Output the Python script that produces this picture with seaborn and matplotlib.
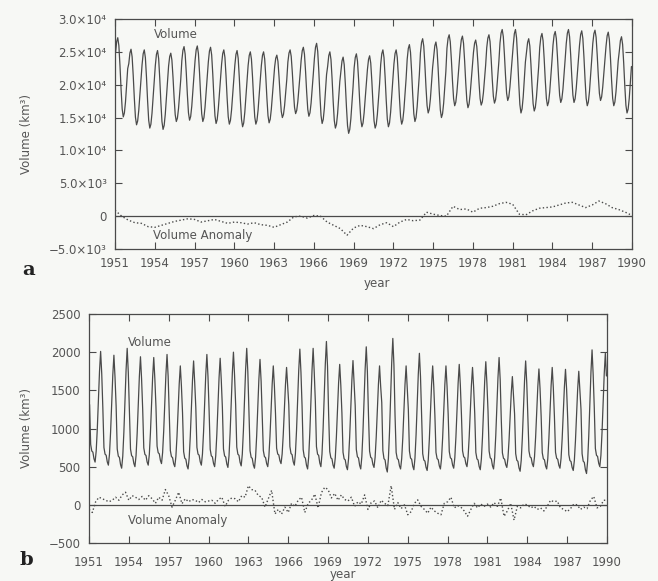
import numpy as np
import pandas as pd
import matplotlib
matplotlib.use("Agg")
import matplotlib.pyplot as plt
import seaborn as sns

sns.set_style("ticks")
plt.rcParams['font.family'] = ['DejaVu Sans']

# ---- data ----
years = np.arange(1951, 1990)

# panel a: yearly maxima / minima of the volume (km3)
peak_a = [27150, 25400, 25300, 25200, 24800, 25800, 25900, 25700, 25300, 25200,
          25000, 25000, 24500, 25300, 25700, 26300, 25000, 24200, 24700, 24400,
          25300, 25300, 26100, 27000, 26500, 27600, 27400, 26800, 27600, 28400,
          28400, 27000, 27800, 28100, 28400, 28200, 28300, 28000, 27300]
trough_a = [15100, 13900, 13400, 13200, 14400, 14600, 14400, 14100, 14000, 13600,
            14000, 14200, 15000, 15600, 15200, 14100, 13400, 12600, 13600, 13400,
            13600, 14000, 14400, 15700, 15000, 16800, 16500, 16900, 17200, 17600,
            15700, 16000, 16800, 17300, 17300, 16800, 17600, 16800, 15700]
# monthly position between minimum (0) and maximum (1)
shape_a = [0.81, 0.95, 1.0, 0.90, 0.65, 0.35, 0.10, 0.0, 0.05, 0.19, 0.39, 0.61]

# panel a anomaly, every half year 1951.0 .. 1990.0
anom_a = [900, 0, -600, -1000, -1100, -1600, -1700, -1400, -1100, -800,
          -600, -400, -500, -900, -700, -500, -800, -1100, -900, -1000,
          -1200, -1000, -1300, -1400, -1700, -1300, -900, -100, 0, -300,
          100, 0, -900, -1400, -1900, -2900, -1800, -1400, -1600, -1900,
          -1300, -1000, -1600, -900, -500, -700, -600, 600, 300, 100,
          0, 1500, 1000, 1100, 600, 1200, 1300, 1500, 1900, 2100,
          1800, 300, 200, 800, 1200, 1300, 1400, 1700, 2000, 2100,
          1700, 1300, 1700, 2300, 1900, 1300, 1000, 600, 100]

# panel b: yearly maxima / minima of the volume (km3)
peak_b = [2010, 1960, 2050, 1940, 1930, 1970, 1820, 1885, 1970, 1920,
          2000, 2050, 1905, 1820, 1800, 2040, 2050, 2140, 1840, 1890,
          2070, 1820, 2180, 1820, 1985, 1820, 1820, 1840, 1800, 1875,
          1930, 1680, 1885, 1780, 1800, 1775, 1750, 2030, 1985]
trough_b = [560, 520, 480, 500, 520, 540, 500, 470, 520, 500,
            490, 510, 480, 500, 540, 520, 470, 500, 480, 460,
            470, 490, 430, 470, 460, 450, 470, 480, 500, 460,
            470, 490, 440, 500, 470, 480, 450, 410, 500]
shape_b = [0.52, 0.16, 0.10, 0.09, 0.03, 0.0, 0.10, 0.30, 0.56, 0.82, 1.0, 0.80]

# panel b anomaly, every quarter 1951.0 .. 1990.0
anom_b = [-60, -100, 40, 100, 80, 60, 40, 60, 100, 60, 130, 165,
          60, 120, 100, 70, 110, 60, 120, 80, 20, 100, 60, 200,
          120, -30, 60, 165, 15, 80, 40, 70, 60, 30, 70, 40,
          50, 60, 20, 70, 100, -20, 60, 90, 80, 40, 120, 100,
          250, 200, 190, 120, 100, -30, 80, 190, -120, -60, -120, -30,
          -100, 20, -20, 60, 100, -100, 20, 60, 140, -40, 160, 230,
          200, 90, 150, 60, 130, 70, 50, 100, -20, 40, 10, 130,
          -60, 30, 50, -40, 60, 20, -10, 250, -60, 30, -50, 0,
          -130, -90, 20, 65, -20, -60, -110, -30, -80, -110, -130, 20,
          40, 100, -40, -10, -30, -80, -150, -60, 20, -40, 10, -20,
          10, -30, 30, -20, 90, -150, -80, 20, -200, -20, -40, 10,
          0, -40, -20, -60, -40, -80, -20, 60, 40, 50, -40, -60,
          -90, -50, 10, 0, -60, -30, -50, 60, 110, -40, -20, 60,
          60]

ticks_x = list(range(1951, 1991, 3))
ticks_a = [-5000, 0, 5000, 10000, 15000, 20000, 25000, 30000]
labels_a = ['\u22125.0\u00d710\u00b3', '0', '5.0\u00d710\u00b3', '1.0\u00d710\u2074',
            '1.5\u00d710\u2074', '2.0\u00d710\u2074', '2.5\u00d710\u2074', '3.0\u00d710\u2074']
ticks_b = [-500, 0, 500, 1000, 1500, 2000, 2500]

# ---- build tables ----
t_month = (years[:, None] + (np.arange(12) + 0.5) / 12).ravel()


def monthly(peak, trough, shape):
    peak = np.array(peak, float)[:, None]
    trough = np.array(trough, float)[:, None]
    return (trough + (peak - trough) * np.array(shape)[None, :]).ravel()


df_a = pd.DataFrame({'year': t_month, 'volume': monthly(peak_a, trough_a, shape_a)})
df_an_a = pd.DataFrame({'year': np.arange(len(anom_a)) * 0.5 + 1951, 'anomaly': anom_a})
df_b = pd.DataFrame({'year': t_month, 'volume': monthly(peak_b, trough_b, shape_b)})
df_an_b = pd.DataFrame({'year': np.arange(len(anom_b)) * 0.25 + 1951, 'anomaly': anom_b})

bg = '#f7f8f5'
ink = '#4a4a4a'
txt = '#555555'

fig = plt.figure(figsize=(6.58, 5.81), dpi=100, facecolor=bg)
ax_a = fig.add_axes([115 / 658, 1 - 249 / 581, 517 / 658, 230 / 581])
ax_b = fig.add_axes([89 / 658, 1 - 543 / 581, 518 / 658, 229 / 581])

sns.lineplot(data=df_a, x='year', y='volume', ax=ax_a, color=ink, lw=0.9)
sns.lineplot(data=df_an_a, x='year', y='anomaly', ax=ax_a, color=ink, lw=1.0, ls=':')
sns.lineplot(data=df_b, x='year', y='volume', ax=ax_b, color=ink, lw=0.9)
sns.lineplot(data=df_an_b, x='year', y='anomaly', ax=ax_b, color=ink, lw=1.0, ls=':')

for ax, yt, ylim in [(ax_a, ticks_a, (-5000, 30000)), (ax_b, ticks_b, (-500, 2500))]:
    ax.set_facecolor(bg)
    ax.axhline(0, color=ink, lw=0.9)
    ax.set_xlim(1951, 1990)
    ax.set_ylim(*ylim)
    ax.set_xticks(ticks_x)
    ax.set_yticks(yt)
    ax.tick_params(direction='in', length=5, width=0.8, color=ink, labelcolor=txt,
                   labelsize=8.5, top=True, right=True, pad=6)
    for s in ax.spines.values():
        s.set_color(ink)
        s.set_linewidth(0.9)
    ax.set_xlabel('year', fontsize=8.5, color=txt)
    ax.set_ylabel('Volume (km\u00b3)', fontsize=8.5, color=txt)

ax_b.tick_params(axis='x', pad=9)
ax_a.set_yticklabels(labels_a)
ax_a.xaxis.set_label_coords(0.507, -0.122)
ax_a.yaxis.set_label_coords(-0.159, 0.5)
ax_b.xaxis.set_label_coords(0.49, -0.107)
ax_b.yaxis.set_label_coords(-0.108, 0.5)

ax_a.text(1953.9, 27600, 'Volume', fontsize=8.5, color=txt, va='center')
ax_a.text(1953.9, -2900, 'Volume Anomaly', fontsize=8.5, color=txt, va='center')
ax_b.text(1953.9, 2130, 'Volume', fontsize=8.5, color=txt, va='center')
ax_b.text(1953.9, -200, 'Volume Anomaly', fontsize=8.5, color=txt, va='center')

fig.text(22 / 658, 1 - 270 / 581, 'a', fontsize=14, fontweight='bold',
         family='DejaVu Serif', color='#222222', va='center')
fig.text(20 / 658, 1 - 560 / 581, 'b', fontsize=14, fontweight='bold',
         family='DejaVu Serif', color='#222222', va='center')

fig.savefig('out.png', dpi=100, facecolor=bg)
